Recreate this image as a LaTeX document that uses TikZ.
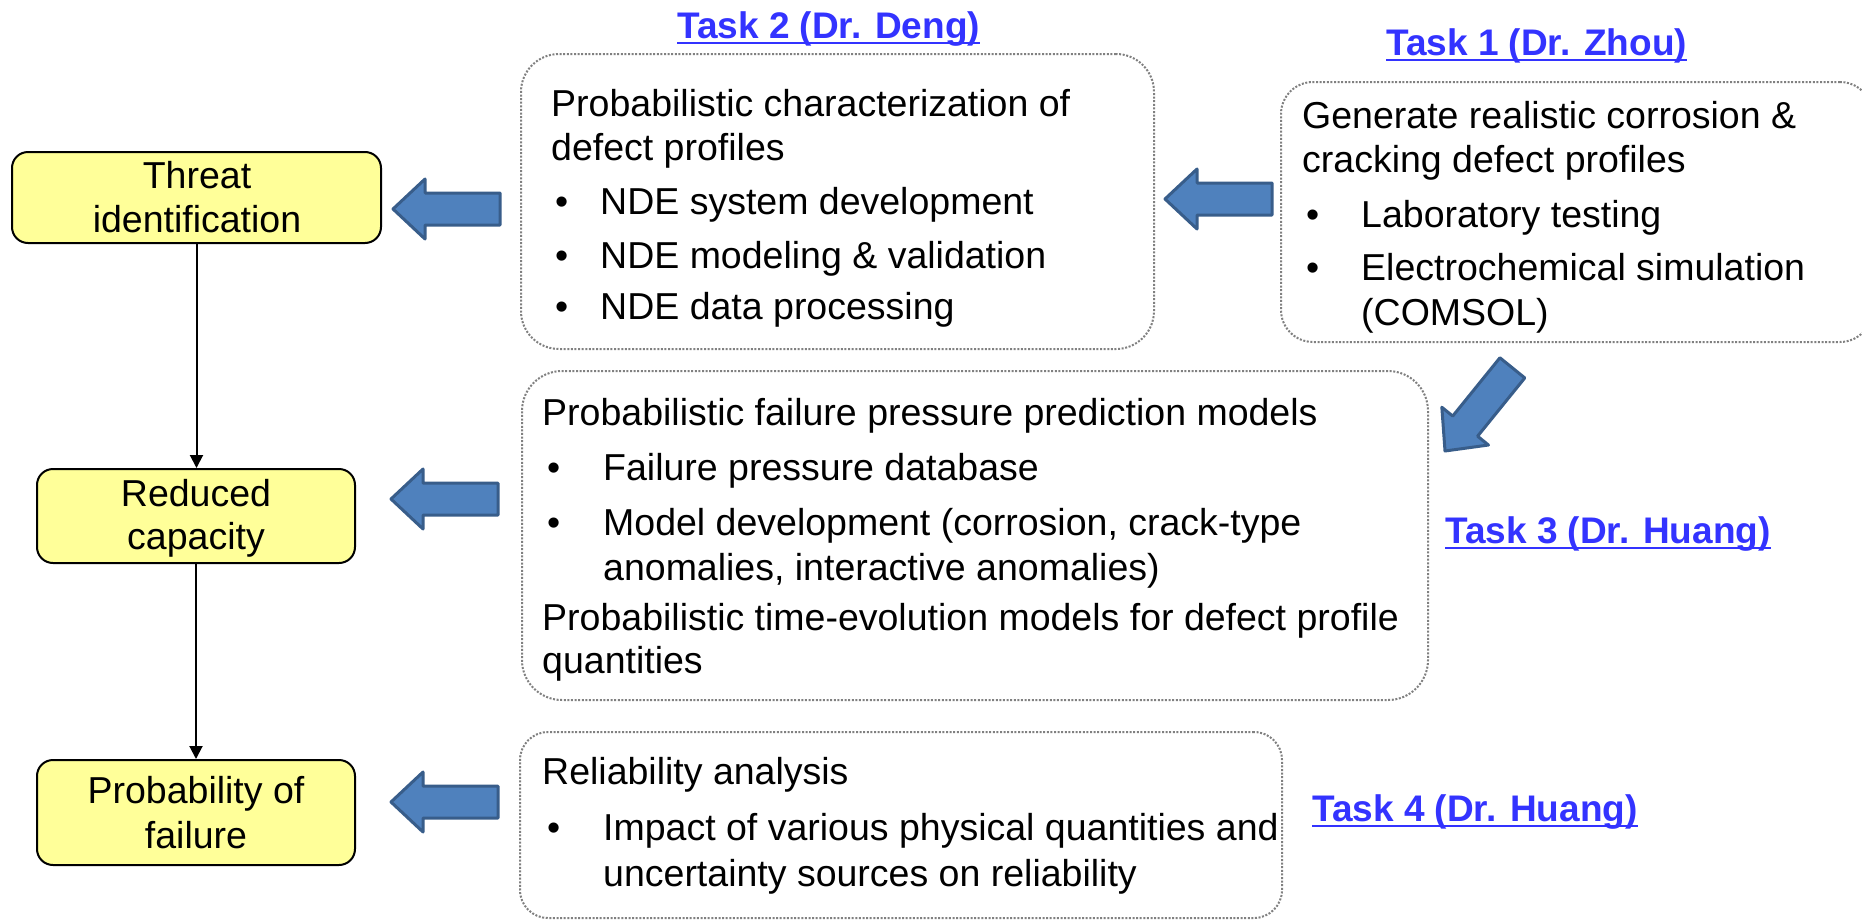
\documentclass[tikz,border=0pt]{standalone}
\usepackage{fontspec}
\setmainfont{Liberation Sans}
\usetikzlibrary{arrows.meta}
\definecolor{yfill}{RGB}{255,255,153}
\definecolor{afill}{RGB}{79,129,189}
\definecolor{aedge}{RGB}{56,93,138}
\definecolor{dotgray}{RGB}{128,128,128}
\definecolor{linkblue}{RGB}{51,51,255}
\tikzset{
  ybox/.style={draw=black, line width=2pt, fill=yfill, rounded corners=16pt, inner sep=0pt},
  tbox/.style={draw=dotgray, line width=2pt, dash pattern=on 2pt off 1.6pt, inner sep=0pt},
  txt/.style={anchor=base west, inner sep=0pt, font=\fontsize{37.5}{45}\selectfont},
  ctxt/.style={anchor=base, inner sep=0pt, font=\fontsize{37.5}{45}\selectfont},
  lbl/.style={anchor=base west, inner sep=0pt, font=\fontsize{37}{44}\selectfont\bfseries, text=linkblue},
  uline/.style={draw=linkblue, line width=2.5pt},
  conn/.style={draw=black, line width=2pt, -{Triangle[width=13pt,length=13pt]}},
  blockarrow/.pic={\path[draw=aedge, fill=afill, line width=3pt, line join=round]
     (0,0) -- (32,-30) -- (32,-16) -- (107,-16) -- (107,16) -- (32,16) -- (32,30) -- cycle;}
}
\begin{document}
\begin{tikzpicture}[x=1pt,y=-1pt]
\useasboundingbox (0,0) rectangle (1862,921);
\clip (0,0) rectangle (1862,921);
\fill[white] (0,0) rectangle (1862,921);

% left column boxes
\node[ybox, minimum width=369pt, minimum height=91pt] (threat) at (196.5,197.5) {};
\node[ybox, minimum width=318pt, minimum height=94pt] (reduced) at (196,516) {};
\node[ybox, minimum width=318pt, minimum height=105pt] (prob) at (196,812.5) {};
\node[ctxt] (threatA) at (197,188) {Threat};
\node[ctxt] (threatB) at (197,232) {identification};
\node[ctxt] (reducedA) at (196,506) {Reduced};
\node[ctxt] (reducedB) at (196,549) {capacity};
\node[ctxt] (probA) at (196,803) {Probability of};
\node[ctxt] (probB) at (196,848) {failure};

\draw[conn] (threat.south) -- (threat.south |- reduced.north);
\draw[conn] (reduced.south) -- (reduced.south |- prob.north);

% task boxes
\node[tbox, rounded corners=38pt, minimum width=633pt, minimum height=295pt] (t2box) at (837.5,201.5) {};
\node[tbox, rounded corners=32pt, minimum width=591pt, minimum height=260pt] (t1box) at (1576.5,212) {};
\node[tbox, rounded corners=40pt, minimum width=906pt, minimum height=329pt] (t3box) at (975,535.5) {};
\node[tbox, rounded corners=28pt, minimum width=762pt, minimum height=186pt] (t4box) at (901,825) {};

% task 2 text
\node[txt] (t2a) at (551,116) {Probabilistic characterization of};
\node[txt] (t2b) at (551,160) {defect profiles};
\node[txt] (t2c) at (555,214) {•};
\node[txt] (t2d) at (600,214) {NDE system development};
\node[txt] (t2e) at (555,268) {•};
\node[txt] (t2f) at (600,268) {NDE modeling \& validation};
\node[txt] (t2g) at (555,319) {•};
\node[txt] (t2h) at (600,319) {NDE data processing};

% task 1 text
\node[txt] (t1a) at (1302,128) {Generate realistic corrosion \&};
\node[txt] (t1b) at (1302,172) {cracking defect profiles};
\node[txt] (t1c) at (1306,227) {•};
\node[txt] (t1d) at (1361,227) {Laboratory testing};
\node[txt] (t1e) at (1306,280) {•};
\node[txt] (t1f) at (1361,280) {Electrochemical simulation};
\node[txt] (t1g) at (1361,325) {(COMSOL)};

% task 3 text
\node[txt] (t3a) at (542,425) {Probabilistic failure pressure prediction models};
\node[txt] (t3b) at (547,480) {•};
\node[txt] (t3c) at (603,480) {Failure pressure database};
\node[txt] (t3d) at (547,535) {•};
\node[txt] (t3e) at (603,535) {Model development (corrosion, crack-type};
\node[txt] (t3f) at (603,580) {anomalies, interactive anomalies)};
\node[txt] (t3g) at (542,630) {Probabilistic time-evolution models for defect profile};
\node[txt] (t3h) at (542,673) {quantities};

% task 4 text
\node[txt] (t4a) at (542,784) {Reliability analysis};
\node[txt] (t4b) at (547,840) {•};
\node[txt] (t4c) at (603,840) {Impact of various physical quantities and};
\node[txt] (t4d) at (603,886) {uncertainty sources on reliability};

% task labels
\node[lbl] (l2) at (677,38) {Task 2 (Dr. Deng)};
\node[lbl] (l1) at (1386,55) {Task 1 (Dr. Zhou)};
\node[lbl] (l3) at (1445,543) {Task 3 (Dr. Huang)};
\node[lbl] (l4) at (1312,821) {Task 4 (Dr. Huang)};
\foreach \n in {l1,l2,l3,l4}
  \draw[uline] ([yshift=-5pt]\n.base west) -- ([yshift=-5pt]\n.base east);

% block arrows
\pic at (393,209) {blockarrow};
\pic at (391,499) {blockarrow};
\pic at (391,802) {blockarrow};
\pic at (1165,199) {blockarrow};
\pic[rotate=51] at (1445,451) {blockarrow};
\end{tikzpicture}
\end{document}
